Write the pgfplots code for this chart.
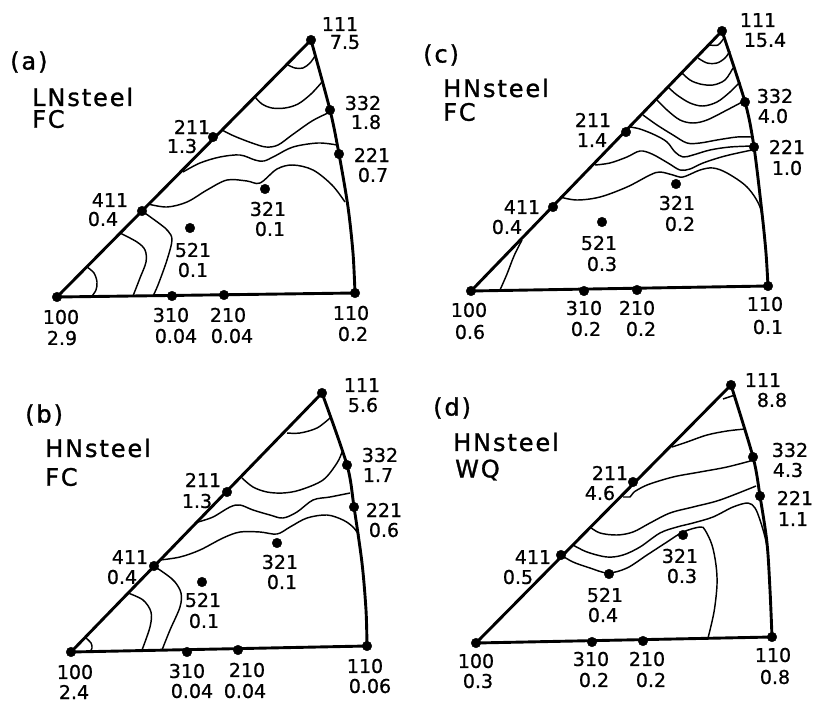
\documentclass[border=0pt]{standalone}
\usepackage{fontspec}
\setmainfont{DejaVu Sans}
\newfontfamily\bigf[LetterSpace=8,FakeBold=1.2]{DejaVu Sans}
\newfontfamily\labf[FakeBold=0.8]{DejaVu Sans}
\usepackage{pgfplots}
\pgfplotsset{compat=1.18}
\newcommand\lf{\labf\fontsize{19}{21}\selectfont}
\newcommand\hf{\bigf\fontsize{24}{28}\selectfont}
\newcommand\lb[3]{\node[font=\lf,inner sep=0pt] at (axis cs:#1,#2) {#3};}
\newcommand\hd[3]{\node[font=\hf,inner sep=0pt,anchor=west] at (axis cs:#1,#2) {#3};}
\begin{document}
\begin{tikzpicture}
\begin{axis}[x=1pt,y=1pt,xmin=0,xmax=815,ymin=0,ymax=702,y dir=reverse,hide axis,clip=false,
 tri/.style={black,line width=2.9pt,line join=round,line cap=round},
 ctr/.style={black,line width=1.45pt,smooth,tension=0.55},
 dots/.style={only marks,mark=*,mark size=4.8pt,black}]
\path (axis cs:0,0) rectangle (axis cs:815,702);
% ================= panel (a)
\addplot[tri] coordinates {(311,40) (57,297) (355,293)};
\addplot[tri,smooth] coordinates {(311,40) (330,110) (339,154) (348,207) (353,253) (355,293)};
\addplot[ctr] coordinates {(288,65) (295,68) (303,68) (310,63) (315,56)};
\addplot[ctr] coordinates {(255,97) (262,104) (272,108) (285,108) (298,104) (311,94) (322,82)};
\addplot[ctr] coordinates {(222,130) (234,136) (252,143) (266,147) (278,145) (292,135) (312,121) (328,113)};
\addplot[ctr] coordinates {(183,172) (200,163) (220,157) (240,155) (255,160) (264,161) (275,156) (293,147) (318,143) (337,145)};
\addplot[ctr] coordinates {(148,204) (167,207) (187,202) (207,190) (227,180) (247,181) (260,183) (277,169) (293,165) (313,170) (332,185) (345,202)};
\addplot[ctr] coordinates {(142,211) (160,224) (168,231) (172,240) (167,260) (158,285) (153,296)};
\addplot[ctr] coordinates {(120,233) (137,242) (145,250) (146,262) (140,278) (133,296)};
\addplot[ctr] coordinates {(87,267) (94,273) (97,282) (96,290) (92,296)};
\addplot[dots] coordinates {(311,40) (330,110) (339,154) (213,137) (142,211) (265,189) (190,228) (57,297) (172,296) (224,295) (355,293)};
\lb{340}{24}{111}\lb{345}{42}{7.5}
\lb{363}{103}{332}\lb{366}{122}{1.8}
\lb{372}{155}{221}\lb{373}{175}{0.7}
\lb{192}{127}{211}\lb{182}{146}{1.3}
\lb{110}{200}{411}\lb{103}{219}{0.4}
\lb{268}{209}{321}\lb{270}{229}{0.1}
\lb{193}{250}{521}\lb{193}{270}{0.1}
\lb{61}{317}{100}\lb{62}{338}{2.9}
\lb{171}{315}{310}\lb{176}{336}{0.04}
\lb{228}{315}{210}\lb{232}{336}{0.04}
\lb{351}{313}{110}\lb{353}{334}{0.2}
\hd{10}{62}{(a)}\hd{32}{97}{LNsteel}\hd{32}{119}{FC}
% ================= panel (c)
\addplot[tri] coordinates {(722,31) (471,291) (768,286)};
\addplot[tri,smooth] coordinates {(722,31) (745,102) (754,147) (762,213) (766,253) (768,286)};
\addplot[ctr] coordinates {(710,45) (718,45) (724,38)};
\addplot[ctr] coordinates {(698,58) (707,63) (717,63) (725,58) (730,51)};
\addplot[ctr] coordinates {(682,73) (690,80) (700,84) (713,85) (725,80) (733,68)};
\addplot[ctr] coordinates {(668,87) (677,95) (690,103) (703,106) (717,102) (730,92) (740,82)};
\addplot[ctr] coordinates {(657,100) (667,110) (680,120) (693,123) (707,120) (727,110) (744,101)};
\addplot[ctr] coordinates {(643,115) (657,125) (673,135) (687,143) (700,143) (717,140) (737,137) (751,137)};
\addplot[ctr] coordinates {(630,127) (640,129) (655,135) (667,142) (675,152) (683,157) (693,155) (710,150) (730,147) (753,146)};
\addplot[ctr] coordinates {(595,165) (610,163) (627,157) (640,151) (652,154) (668,163) (680,170) (690,169) (703,163) (725,156) (752,150)};
\addplot[ctr] coordinates {(560,197) (577,200) (600,197) (627,187) (650,175) (660,172) (673,175) (683,177) (700,170) (713,168) (727,173) (747,187) (760,207) (764,232)};
\addplot[ctr] coordinates {(522,240) (514,256) (507,274) (500,290)};
\addplot[dots] coordinates {(722,31) (745,102) (754,147) (626,132) (553,207) (676,184) (602,222) (471,291) (584,291) (637,290) (768,286)};
\lb{758}{20}{111}\lb{765}{40}{15.4}
\lb{775}{96}{332}\lb{773}{116}{4.0}
\lb{787}{147}{221}\lb{787}{168}{1.0}
\lb{593}{120}{211}\lb{592}{140}{1.4}
\lb{522}{207}{411}\lb{507}{227}{0.4}
\lb{677}{203}{321}\lb{680}{224}{0.2}
\lb{599}{243}{521}\lb{602}{264}{0.3}
\lb{469}{310}{100}\lb{470}{332}{0.6}
\lb{584}{308}{310}\lb{586}{329}{0.2}
\lb{637}{308}{210}\lb{641}{329}{0.2}
\lb{765}{304}{110}\lb{768}{327}{0.1}
\hd{423}{55}{(c)}\hd{443}{88}{HNsteel}\hd{443}{112}{FC}
% ================= panel (b)
\addplot[tri] coordinates {(322,393) (71,652) (367,646)};
\addplot[tri,smooth] coordinates {(322,393) (347,465) (354,507) (362,563) (366,610) (367,646)};
\addplot[ctr] coordinates {(287,433) (300,433) (317,428) (330,418)};
\addplot[ctr] coordinates {(242,478) (253,487) (267,492) (283,493) (300,490) (323,480) (337,463) (342,452)};
\addplot[ctr] coordinates {(198,522) (213,517) (230,507) (240,505) (253,510) (270,515) (283,518) (297,512) (313,500) (330,497) (350,493)};
\addplot[ctr] coordinates {(160,560) (180,557) (200,550) (223,538) (240,532) (260,532) (277,534) (290,527) (307,518) (327,515) (343,520) (353,527) (359,535)};
\addplot[ctr] coordinates {(154,566) (167,575) (175,582) (181,593) (180,607) (170,630) (162,650)};
\addplot[ctr] coordinates {(128,593) (143,600) (151,612) (150,627) (142,650)};
\addplot[ctr] coordinates {(85,637) (91,643) (92,648) (90,652)};
\addplot[dots] coordinates {(322,393) (347,465) (354,507) (227,492) (154,566) (277,543) (202,582) (71,652) (187,652) (238,650) (367,646)};
\lb{362}{385}{111}\lb{363}{405}{5.6}
\lb{380}{455}{332}\lb{378}{475}{1.7}
\lb{384}{510}{221}\lb{384}{530}{0.6}
\lb{203}{480}{211}\lb{197}{501}{1.3}
\lb{130}{557}{411}\lb{122}{577}{0.4}
\lb{280}{562}{321}\lb{282}{582}{0.1}
\lb{203}{600}{521}\lb{204}{621}{0.1}
\lb{75}{672}{100}\lb{74}{692}{2.4}
\lb{187}{671}{310}\lb{192}{691}{0.04}
\lb{247}{670}{210}\lb{245}{691}{0.04}
\lb{365}{666}{110}\lb{370}{686}{0.06}
\hd{25}{415}{(b)}\hd{45}{448}{HNsteel}\hd{45}{477}{FC}
% ================= panel (d)
\addplot[tri] coordinates {(731,385) (476,643) (772,637)};
\addplot[tri,smooth] coordinates {(731,385) (753,457) (760,496) (767,543) (770,590) (772,637)};
\addplot[ctr] coordinates {(723,399) (729,397) (735,395)};
\addplot[ctr] coordinates {(672,447) (687,442) (707,435) (727,431) (745,429)};
\addplot[black,line width=1.45pt] coordinates {(623,497) (630,497) (634,492)};
\addplot[ctr] coordinates {(634,492) (647,485) (673,477) (700,472) (727,467) (754,460)};
\addplot[ctr] coordinates {(590,527) (600,533) (617,535) (633,532) (650,523) (670,513) (693,507) (720,500) (756,486)};
\addplot[ctr] coordinates {(573,545) (587,552) (607,557) (623,555) (640,547) (660,533) (677,527) (693,523) (713,517) (733,507) (748,503) (755,508) (760,520) (765,537) (768,552)};
\addplot[ctr] coordinates {(561,555) (573,562) (590,568) (608,573) (627,568) (647,555) (667,542) (683,532) (700,527) (705,530) (712,545) (716,565) (717,585) (714,612) (708,638)};
\addplot[dots] coordinates {(731,385) (753,457) (760,496) (633,482) (561,555) (683,535) (609,574) (476,643) (592,642) (643,641) (772,637)};
\lb{763}{380}{111}\lb{772}{400}{8.8}
\lb{790}{450}{332}\lb{788}{470}{4.3}
\lb{795}{498}{221}\lb{793}{519}{1.1}
\lb{610}{473}{211}\lb{600}{493}{4.6}
\lb{533}{557}{411}\lb{518}{577}{0.5}
\lb{680}{556}{321}\lb{682}{576}{0.3}
\lb{605}{595}{521}\lb{603}{615}{0.4}
\lb{476}{661}{100}\lb{478}{681}{0.3}
\lb{591}{659}{310}\lb{594}{680}{0.2}
\lb{647}{659}{210}\lb{651}{680}{0.2}
\lb{773}{655}{110}\lb{775}{677}{0.8}
\hd{433}{408}{(d)}\hd{453}{442}{HNsteel}\hd{455}{470}{WQ}
\end{axis}
\end{tikzpicture}
\end{document}
